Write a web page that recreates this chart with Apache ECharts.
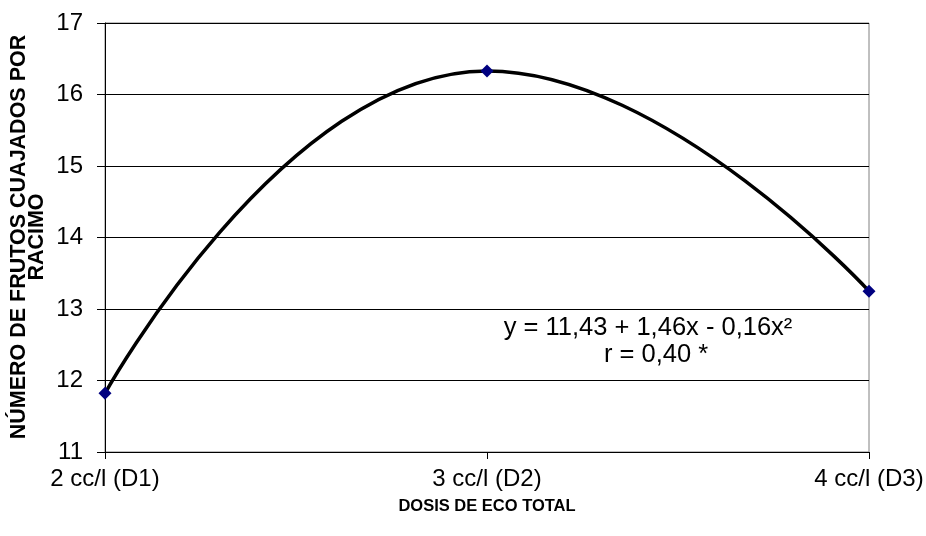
<!DOCTYPE html>
<html>
<head>
<meta charset="utf-8">
<script src="https://cdn.jsdelivr.net/npm/echarts@6/dist/echarts.min.js"></script>
<style>html,body{margin:0;padding:0;background:#fff;}#c{width:926px;height:536px;}</style>
</head>
<body>
<div id="c"></div>
<script>
var categories = ['2 cc/l (D1)', '3 cc/l (D2)', '4 cc/l (D3)'];
var frutos = [11.82, 16.33, 13.25];
var yTicks = [11, 12, 13, 14, 15, 16, 17];
var xTitle = 'DOSIS DE ECO TOTAL';
var yTitle = 'NÚMERO DE FRUTOS CUAJADOS POR\nRACIMO';
var eqLine1 = 'y = 11,43 + 1,46x - 0,16x²';
var eqLine2 = 'r = 0,40 *';

var FONT = 'Liberation Sans, Arial, sans-serif';
var chart = echarts.init(document.getElementById('c'));
chart.setOption({
  animation: false,
  backgroundColor: '#fff',
  grid: { left: 105, right: 57, top: 23, bottom: 84, show: true, borderColor: '#808080', borderWidth: 1, containLabel: false, outerBoundsMode: 'none' },
  xAxis: {
    type: 'category',
    data: categories,
    boundaryGap: false,
    axisLine: { lineStyle: { color: '#000', width: 1 } },
    axisTick: { show: true, length: 7, lineStyle: { color: '#000' } },
    axisLabel: { color: '#000', fontFamily: FONT, fontSize: 24, margin: 15 },
    name: xTitle,
    nameLocation: 'middle',
    nameGap: 46,
    nameTextStyle: { color: '#000', fontFamily: FONT, fontSize: 16.5, fontWeight: 'bold' }
  },
  yAxis: {
    type: 'value',
    min: yTicks[0],
    max: yTicks[yTicks.length - 1],
    interval: 1,
    axisLine: { show: true, lineStyle: { color: '#000', width: 1 } },
    axisTick: { show: true, length: 8, lineStyle: { color: '#000' } },
    axisLabel: { color: '#000', fontFamily: FONT, fontSize: 24, margin: 22 },
    splitLine: { show: true, lineStyle: { color: '#000', width: 1 } }
  },
  series: [{
    type: 'line',
    data: frutos,
    smooth: 0.5,
    symbol: 'diamond',
    symbolSize: 13,
    itemStyle: { color: '#000080' },
    lineStyle: { color: '#000', width: 3.5 },
    z: 3
  }],
  graphic: [
    { type: 'text', x: 28, y: 237, rotation: Math.PI / 2,
      style: { text: yTitle, font: 'bold 21.5px ' + FONT, fill: '#000', textAlign: 'center', textVerticalAlign: 'middle', lineHeight: 18 } },
    { type: 'text', x: 648, y: 315, style: { text: eqLine1, font: '25.5px ' + FONT, fill: '#000', textAlign: 'center' } },
    { type: 'text', x: 656, y: 342, style: { text: eqLine2, font: '25.5px ' + FONT, fill: '#000', textAlign: 'center' } }
  ]
});
</script>
</body>
</html>
